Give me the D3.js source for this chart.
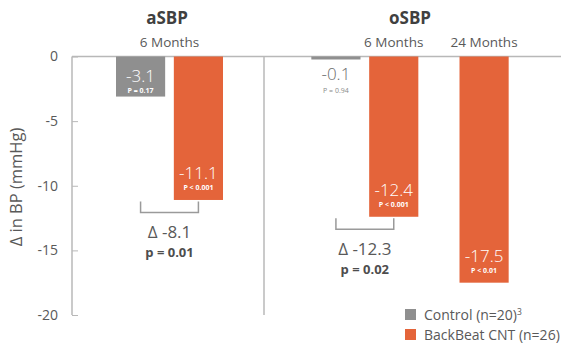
<!DOCTYPE html>
<html>
<head>
<meta charset="utf-8">
<script src="https://cdn.jsdelivr.net/npm/d3@7"></script>
<style>
  html, body { margin: 0; padding: 0; background: #fff; }
  svg { display: block; font-family: "Open Sans", "Noto Sans", sans-serif; }
</style>
</head>
<body>
<svg id="chart" width="566" height="345"></svg>
<script>
// Change in blood pressure (mmHg) by measure and time point
const panels = ["aSBP", "oSBP"];
const slots = ["aSBP|6 Months", "oSBP|6 Months", "oSBP|24 Months"];
const slotLabels = ["6 Months", "6 Months", "24 Months"];
const controlValues = [-3.1, -0.1, null];
const controlP = ["P = 0.17", "P = 0.94", null];
const cntValues = [-11.1, -12.4, -17.5];
const cntP = ["P < 0.001", "P < 0.001", "P < 0.01"];
const deltaSlots = [0, 1];
const deltaLabels = ["Δ -8.1", "Δ -12.3"];
const deltaP = ["p = 0.01", "p = 0.02"];
const yTicks = [0, -5, -10, -15, -20];
const legendLabels = ["Control (n=20)", "BackBeat CNT (n=26)"];

const GRAY = "#8f8f8f";
const ORANGE = "#e4643a";
const TEXT = "#595959";
const AXIS = "#b8b8b8";

const svg = d3.select("#chart");

const y = d3.scaleLinear().domain([0, -20]).range([56.5, 315]);

// one band per measurement slot; each band holds a control/CNT pair
const x = d3.scaleBand().domain(slots).range([92, 528]);
const inner = d3.scaleBand().domain(["control", "cnt"]).range([0, 107]).paddingInner(0.15);
const slotShift = [24, 74, 19];
const groupX = slots.map((s, i) => x(s) + slotShift[i]);

const axisX = 72;
const dividerX = 264;

// y axis (plain hyphen for negatives)
const yAxis = d3.axisLeft(y).tickValues(yTicks).tickSize(-6).tickPadding(14).tickFormat(d => String(d));
const gy = svg.append("g").attr("transform", `translate(${axisX},0)`).call(yAxis);
gy.select(".domain").remove();
gy.selectAll(".tick line").attr("stroke", AXIS).attr("stroke-width", 1);
gy.selectAll(".tick text").attr("fill", TEXT).style("font-size", "14px")
  .style("font-family", "'Open Sans', sans-serif");

svg.append("line").attr("x1", axisX).attr("x2", axisX)
  .attr("y1", y(0)).attr("y2", y(-20)).attr("stroke", AXIS).attr("stroke-width", 1.5);
svg.append("line").attr("x1", axisX).attr("x2", 561)
  .attr("y1", y(0)).attr("y2", y(0)).attr("stroke", AXIS).attr("stroke-width", 1.5);
svg.append("line").attr("x1", dividerX).attr("x2", dividerX)
  .attr("y1", y(0)).attr("y2", y(-20)).attr("stroke", AXIS).attr("stroke-width", 1.5);

// y axis title
svg.append("text")
  .attr("transform", `translate(15,${187}) rotate(-90)`)
  .attr("text-anchor", "middle").attr("dominant-baseline", "central")
  .attr("fill", TEXT).style("font-size", "16.5px")
  .text("Δ in BP (mmHg)");

// panel titles
const panelCenters = [167, 410];
svg.selectAll("text.panel").data(panels).join("text")
  .attr("class", "panel")
  .attr("x", (d, i) => panelCenters[i]).attr("y", 24)
  .attr("text-anchor", "middle").attr("fill", "#404040")
  .style("font-size", "17px").style("font-weight", "bold")
  .text(d => d);

const bw = inner.bandwidth();
const ctrlX = i => groupX[i] + inner("control");
const cntX = i => groupX[i] + inner("cnt");

// time point labels
const labelCenters = slots.map((s, i) => i === 0 ? groupX[i] + 107 / 2 : cntX(i) + bw / 2);
svg.selectAll("text.slot").data(slotLabels).join("text")
  .attr("class", "slot")
  .attr("x", (d, i) => labelCenters[i]).attr("y", 47)
  .attr("text-anchor", "middle").attr("fill", TEXT)
  .style("font-size", "13.5px")
  .text(d => d);

// control bars
const ctrlData = controlValues.map((v, i) => ({ v, i, p: controlP[i] })).filter(d => d.v !== null);
svg.selectAll("rect.ctrl").data(ctrlData).join("rect")
  .attr("class", "ctrl")
  .attr("x", d => ctrlX(d.i)).attr("width", bw)
  .attr("y", y(0)).attr("height", d => Math.max(y(d.v) - y(0), 3))
  .attr("fill", GRAY);

// CNT bars
const cntData = cntValues.map((v, i) => ({ v, i, p: cntP[i] }));
svg.selectAll("rect.cnt").data(cntData).join("rect")
  .attr("class", "cnt")
  .attr("x", d => cntX(d.i)).attr("width", bw)
  .attr("y", y(0)).attr("height", d => y(d.v) - y(0))
  .attr("fill", ORANGE);

// value labels: inside the bar when it is tall enough, otherwise beneath it
function valueLabel(d, xPos) {
  const tall = y(d.v) - y(0) > 30;
  const cx = xPos + bw / 2;
  const base = tall ? Math.max(y(d.v) - 21, y(0) + 25) : y(d.v) + 22;
  const pBase = tall ? base + 11.5 : base + 13;
  svg.append("text").attr("x", cx).attr("y", base)
    .attr("text-anchor", "middle").attr("fill", tall ? "#ffffff" : "#6b6b6b")
    .style("font-size", "17px").style("font-weight", "300").text(d.v.toFixed(1));
  svg.append("text").attr("x", cx).attr("y", pBase)
    .attr("text-anchor", "middle").attr("fill", tall ? "#ffffff" : "#8a8a8a")
    .style("font-size", "7px").style("font-weight", tall ? "bold" : "normal")
    .text(d.p);
}
ctrlData.forEach(d => valueLabel(d, ctrlX(d.i)));
cntData.forEach(d => valueLabel(d, cntX(d.i)));

// difference brackets between control and CNT
deltaSlots.forEach((i, k) => {
  const x1 = ctrlX(i) + bw / 2;
  const x2 = cntX(i) + bw / 2;
  const yTop = y(cntValues[i]) + 1.5;
  const yBot = yTop + 11;
  svg.append("path")
    .attr("d", `M${x1},${yTop}V${yBot}H${x2}V${yTop}`)
    .attr("fill", "none").attr("stroke", "#9a9a9a").attr("stroke-width", 1.5);
  const cx = (x1 + x2) / 2;
  svg.append("text").attr("x", cx).attr("y", yBot + 26)
    .attr("text-anchor", "middle").attr("fill", TEXT)
    .style("font-size", "17px").text(deltaLabels[k]);
  svg.append("text").attr("x", cx).attr("y", yBot + 44.5)
    .attr("text-anchor", "middle").attr("fill", "#4d4d4d")
    .style("font-size", "13px").style("font-weight", "bold").text(deltaP[k]);
});

// legend
const legendColors = [GRAY, ORANGE];
const lg = svg.append("g").attr("transform", "translate(405,309)");
legendLabels.forEach((t, i) => {
  lg.append("rect").attr("x", 0).attr("y", i * 20).attr("width", 11).attr("height", 11)
    .attr("fill", legendColors[i]);
  const txt = lg.append("text").attr("x", 19).attr("y", i * 20 + 10.5)
    .attr("fill", TEXT).style("font-size", "14px").text(t);
  if (i === 0) {
    txt.append("tspan").attr("dy", -5).style("font-size", "8.5px").text("3");
  }
});
</script>
</body>
</html>
